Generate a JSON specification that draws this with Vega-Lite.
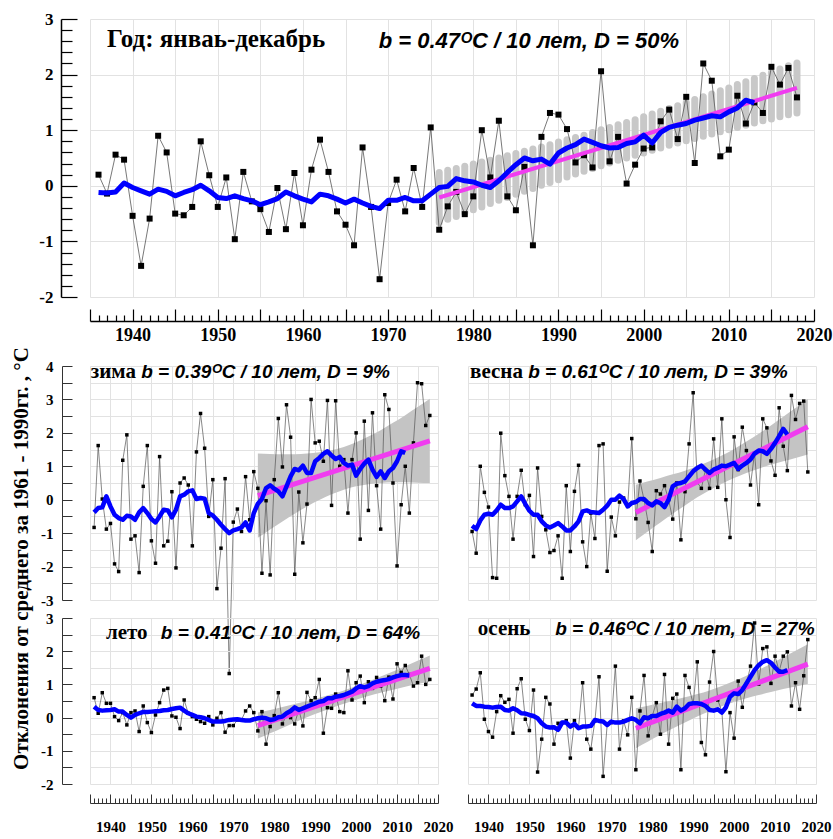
{
  "$schema": "https://vega.github.io/schema/vega-lite/v6.json",
  "background": "white",
  "padding": {"left": 10, "top": 10, "right": 2, "bottom": 2},
  "config": {"view": {"stroke": null}},
  "datasets": {
    "annual_obs": [
      {"year":1936,"value":0.2},{"year":1937,"value":-0.14},{"year":1938,"value":0.56},{"year":1939,"value":0.47},{"year":1940,"value":-0.54},{"year":1941,"value":-1.44},{"year":1942,"value":-0.59},{"year":1943,"value":0.9},{"year":1944,"value":0.6},{"year":1945,"value":-0.5},{"year":1946,"value":-0.53},{"year":1947,"value":-0.38},{"year":1948,"value":0.8},{"year":1949,"value":0.19},{"year":1950,"value":-0.38},{"year":1951,"value":0.15},{"year":1952,"value":-0.96},{"year":1953,"value":0.25},{"year":1954,"value":-0.28},{"year":1955,"value":-0.42},{"year":1956,"value":-0.83},{"year":1957,"value":-0.04},{"year":1958,"value":-0.78},{"year":1959,"value":0.23},{"year":1960,"value":-0.71},{"year":1961,"value":0.29},{"year":1962,"value":0.83},{"year":1963,"value":0.25},{"year":1964,"value":-0.46},{"year":1965,"value":-0.7},{"year":1966,"value":-1.07},{"year":1967,"value":0.69},{"year":1968,"value":-0.38},{"year":1969,"value":-1.68},{"year":1970,"value":-0.31},{"year":1971,"value":0.11},{"year":1972,"value":-0.46},{"year":1973,"value":0.32},{"year":1974,"value":-0.38},{"year":1975,"value":1.05},{"year":1976,"value":-0.79},{"year":1977,"value":-0.37},{"year":1978,"value":-0.11},{"year":1979,"value":-0.51},{"year":1980,"value":-0.19},{"year":1981,"value":1.0},{"year":1982,"value":0.15},{"year":1983,"value":1.17},{"year":1984,"value":-0.19},{"year":1985,"value":-0.44},{"year":1986,"value":0.34},{"year":1987,"value":-1.07},{"year":1988,"value":0.88},{"year":1989,"value":1.31},{"year":1990,"value":1.28},{"year":1991,"value":1.02},{"year":1992,"value":0.42},{"year":1993,"value":0.55},{"year":1994,"value":0.33},{"year":1995,"value":2.06},{"year":1996,"value":0.44},{"year":1997,"value":0.88},{"year":1998,"value":0.04},{"year":1999,"value":0.38},{"year":2000,"value":0.67},{"year":2001,"value":0.69},{"year":2002,"value":1.16},{"year":2003,"value":1.37},{"year":2004,"value":0.84},{"year":2005,"value":1.6},{"year":2006,"value":0.41},{"year":2007,"value":2.2},{"year":2008,"value":1.89},{"year":2009,"value":0.53},{"year":2010,"value":0.65},{"year":2011,"value":1.62},{"year":2012,"value":1.12},{"year":2013,"value":1.5},{"year":2014,"value":1.31},{"year":2015,"value":2.14},{"year":2016,"value":1.82},{"year":2017,"value":2.12},{"year":2018,"value":1.59}
    ],
    "annual_smooth": [
      {"year":1936,"value":-0.12},{"year":1937,"value":-0.13},{"year":1938,"value":-0.11},{"year":1939,"value":0.05},{"year":1940,"value":-0.03},{"year":1941,"value":-0.09},{"year":1942,"value":-0.15},{"year":1943,"value":-0.06},{"year":1944,"value":-0.1},{"year":1945,"value":-0.18},{"year":1946,"value":-0.12},{"year":1947,"value":-0.07},{"year":1948,"value":0.01},{"year":1949,"value":-0.09},{"year":1950,"value":-0.21},{"year":1951,"value":-0.23},{"year":1952,"value":-0.18},{"year":1953,"value":-0.23},{"year":1954,"value":-0.27},{"year":1955,"value":-0.34},{"year":1956,"value":-0.29},{"year":1957,"value":-0.23},{"year":1958,"value":-0.11},{"year":1959,"value":-0.18},{"year":1960,"value":-0.24},{"year":1961,"value":-0.29},{"year":1962,"value":-0.15},{"year":1963,"value":-0.18},{"year":1964,"value":-0.24},{"year":1965,"value":-0.31},{"year":1966,"value":-0.24},{"year":1967,"value":-0.31},{"year":1968,"value":-0.37},{"year":1969,"value":-0.41},{"year":1970,"value":-0.26},{"year":1971,"value":-0.26},{"year":1972,"value":-0.21},{"year":1973,"value":-0.27},{"year":1974,"value":-0.27},{"year":1975,"value":-0.15},{"year":1976,"value":-0.03},{"year":1977,"value":-0.01},{"year":1978,"value":0.13},{"year":1979,"value":0.09},{"year":1980,"value":0.07},{"year":1981,"value":0.01},{"year":1982,"value":-0.03},{"year":1983,"value":0.09},{"year":1984,"value":0.24},{"year":1985,"value":0.38},{"year":1986,"value":0.5},{"year":1987,"value":0.45},{"year":1988,"value":0.48},{"year":1989,"value":0.39},{"year":1990,"value":0.59},{"year":1991,"value":0.68},{"year":1992,"value":0.74},{"year":1993,"value":0.84},{"year":1994,"value":0.78},{"year":1995,"value":0.72},{"year":1996,"value":0.68},{"year":1997,"value":0.69},{"year":1998,"value":0.76},{"year":1999,"value":0.79},{"year":2000,"value":0.91},{"year":2001,"value":0.77},{"year":2002,"value":0.96},{"year":2003,"value":1.05},{"year":2004,"value":1.09},{"year":2005,"value":1.12},{"year":2006,"value":1.18},{"year":2007,"value":1.22},{"year":2008,"value":1.26},{"year":2009,"value":1.24},{"year":2010,"value":1.33},{"year":2011,"value":1.4},{"year":2012,"value":1.54},{"year":2013,"value":1.49}
    ],
    "annual_trend": [{"year":1976,"value":-0.21},{"year":2018,"value":1.76}],
    "annual_band": [
      {"year":1976,"lo":-0.66,"hi":0.24},{"year":1977,"lo":-0.6,"hi":0.28},{"year":1978,"lo":-0.55,"hi":0.31},{"year":1979,"lo":-0.49,"hi":0.35},{"year":1980,"lo":-0.43,"hi":0.39},{"year":1981,"lo":-0.38,"hi":0.43},{"year":1982,"lo":-0.32,"hi":0.46},{"year":1983,"lo":-0.26,"hi":0.5},{"year":1984,"lo":-0.21,"hi":0.54},{"year":1985,"lo":-0.15,"hi":0.58},{"year":1986,"lo":-0.1,"hi":0.62},{"year":1987,"lo":-0.05,"hi":0.66},{"year":1988,"lo":0.01,"hi":0.7},{"year":1989,"lo":0.06,"hi":0.74},{"year":1990,"lo":0.11,"hi":0.79},{"year":1991,"lo":0.16,"hi":0.83},{"year":1992,"lo":0.21,"hi":0.87},{"year":1993,"lo":0.26,"hi":0.91},{"year":1994,"lo":0.31,"hi":0.96},{"year":1995,"lo":0.36,"hi":1.01},{"year":1996,"lo":0.41,"hi":1.05},{"year":1997,"lo":0.46,"hi":1.1},{"year":1998,"lo":0.5,"hi":1.14},{"year":1999,"lo":0.55,"hi":1.19},{"year":2000,"lo":0.59,"hi":1.24},{"year":2001,"lo":0.64,"hi":1.29},{"year":2002,"lo":0.68,"hi":1.34},{"year":2003,"lo":0.73,"hi":1.39},{"year":2004,"lo":0.77,"hi":1.44},{"year":2005,"lo":0.81,"hi":1.5},{"year":2006,"lo":0.85,"hi":1.55},{"year":2007,"lo":0.89,"hi":1.6},{"year":2008,"lo":0.93,"hi":1.65},{"year":2009,"lo":0.97,"hi":1.71},{"year":2010,"lo":1.01,"hi":1.76},{"year":2011,"lo":1.05,"hi":1.82},{"year":2012,"lo":1.09,"hi":1.87},{"year":2013,"lo":1.13,"hi":1.93},{"year":2014,"lo":1.17,"hi":1.99},{"year":2015,"lo":1.2,"hi":2.04},{"year":2016,"lo":1.24,"hi":2.1},{"year":2017,"lo":1.28,"hi":2.16},{"year":2018,"lo":1.31,"hi":2.21}
    ],
    "winter_obs": [
      {"year":1936,"value":-0.83},{"year":1937,"value":1.62},{"year":1938,"value":0.02},{"year":1939,"value":-0.88},{"year":1940,"value":-0.71},{"year":1941,"value":-1.92},{"year":1942,"value":-2.15},{"year":1943,"value":1.18},{"year":1944,"value":1.94},{"year":1945,"value":-1.18},{"year":1946,"value":-1.08},{"year":1947,"value":-2.18},{"year":1948,"value":0.4},{"year":1949,"value":1.62},{"year":1950,"value":-1.23},{"year":1951,"value":-1.9},{"year":1952,"value":1.29},{"year":1953,"value":-1.38},{"year":1954,"value":-1.24},{"year":1955,"value":0.24},{"year":1956,"value":-2.04},{"year":1957,"value":0.5},{"year":1958,"value":0.65},{"year":1959,"value":0.44},{"year":1960,"value":-1.38},{"year":1961,"value":1.43},{"year":1962,"value":2.58},{"year":1963,"value":1.54},{"year":1964,"value":-0.5},{"year":1965,"value":0.6},{"year":1966,"value":-2.66},{"year":1967,"value":-1.45},{"year":1968,"value":0.63},{"year":1969,"value":-5.2},{"year":1970,"value":-0.67},{"year":1971,"value":-0.28},{"year":1972,"value":-0.95},{"year":1973,"value":0.69},{"year":1974,"value":-0.6},{"year":1975,"value":0.84},{"year":1976,"value":0.34},{"year":1977,"value":-2.2},{"year":1978,"value":-0.03},{"year":1979,"value":-2.25},{"year":1980,"value":0.6},{"year":1981,"value":2.43},{"year":1982,"value":0.98},{"year":1983,"value":2.84},{"year":1984,"value":1.87},{"year":1985,"value":-2.23},{"year":1986,"value":0.23},{"year":1987,"value":-1.29},{"year":1988,"value":-0.13},{"year":1989,"value":3.0},{"year":1990,"value":1.7},{"year":1991,"value":1.75},{"year":1992,"value":1.15},{"year":1993,"value":2.97},{"year":1994,"value":-0.17},{"year":1995,"value":2.96},{"year":1996,"value":1.0},{"year":1997,"value":1.2},{"year":1998,"value":-0.4},{"year":1999,"value":1.2},{"year":2000,"value":2.0},{"year":2001,"value":-1.18},{"year":2002,"value":2.35},{"year":2003,"value":-0.32},{"year":2004,"value":2.6},{"year":2005,"value":0.42},{"year":2006,"value":-0.88},{"year":2007,"value":3.14},{"year":2008,"value":2.7},{"year":2009,"value":0.5},{"year":2010,"value":-1.98},{"year":2011,"value":-0.15},{"year":2012,"value":1.0},{"year":2013,"value":-0.4},{"year":2014,"value":1.7},{"year":2015,"value":3.5},{"year":2016,"value":3.47},{"year":2017,"value":2.22},{"year":2018,"value":2.52}
    ],
    "winter_smooth": [
      {"year":1936,"value":-0.38},{"year":1937,"value":-0.25},{"year":1938,"value":-0.23},{"year":1939,"value":0.1},{"year":1940,"value":-0.2},{"year":1941,"value":-0.45},{"year":1942,"value":-0.55},{"year":1943,"value":-0.6},{"year":1944,"value":-0.48},{"year":1945,"value":-0.5},{"year":1946,"value":-0.6},{"year":1947,"value":-0.38},{"year":1948,"value":-0.25},{"year":1949,"value":-0.4},{"year":1950,"value":-0.58},{"year":1951,"value":-0.68},{"year":1952,"value":-0.5},{"year":1953,"value":-0.3},{"year":1954,"value":-0.32},{"year":1955,"value":-0.53},{"year":1956,"value":-0.3},{"year":1957,"value":0.1},{"year":1958,"value":0.15},{"year":1959,"value":0.25},{"year":1960,"value":0.28},{"year":1961,"value":0.02},{"year":1962,"value":0.05},{"year":1963,"value":0.03},{"year":1964,"value":-0.4},{"year":1965,"value":-0.47},{"year":1966,"value":-0.6},{"year":1967,"value":-0.75},{"year":1968,"value":-0.88},{"year":1969,"value":-1.0},{"year":1970,"value":-0.92},{"year":1971,"value":-0.88},{"year":1972,"value":-0.83},{"year":1973,"value":-0.68},{"year":1974,"value":-0.92},{"year":1975,"value":-0.4},{"year":1976,"value":-0.12},{"year":1977,"value":0.02},{"year":1978,"value":0.35},{"year":1979,"value":0.43},{"year":1980,"value":0.33},{"year":1981,"value":0.25},{"year":1982,"value":0.1},{"year":1983,"value":0.4},{"year":1984,"value":0.7},{"year":1985,"value":0.92},{"year":1986,"value":0.88},{"year":1987,"value":1.02},{"year":1988,"value":0.8},{"year":1989,"value":0.8},{"year":1990,"value":1.15},{"year":1991,"value":1.25},{"year":1992,"value":1.37},{"year":1993,"value":1.45},{"year":1994,"value":1.32},{"year":1995,"value":1.22},{"year":1996,"value":1.28},{"year":1997,"value":1.1},{"year":1998,"value":1.02},{"year":1999,"value":1.05},{"year":2000,"value":0.72},{"year":2001,"value":0.92},{"year":2002,"value":1.08},{"year":2003,"value":1.2},{"year":2004,"value":0.9},{"year":2005,"value":0.68},{"year":2006,"value":0.85},{"year":2007,"value":0.65},{"year":2008,"value":0.85},{"year":2009,"value":0.95},{"year":2010,"value":1.15},{"year":2011,"value":1.45},{"year":2012,"value":1.4}
    ],
    "winter_trend": [{"year":1976,"value":0.12},{"year":2018,"value":1.76}],
    "winter_band": [
      {"year":1976,"lo":-1.14,"hi":1.38},{"year":1979,"lo":-0.89,"hi":1.37},{"year":1982,"lo":-0.65,"hi":1.36},{"year":1985,"lo":-0.42,"hi":1.36},{"year":1988,"lo":-0.2,"hi":1.38},{"year":1991,"lo":-0.01,"hi":1.42},{"year":1994,"lo":0.16,"hi":1.48},{"year":1997,"lo":0.3,"hi":1.58},{"year":2000,"lo":0.4,"hi":1.72},{"year":2003,"lo":0.46,"hi":1.89},{"year":2006,"lo":0.5,"hi":2.08},{"year":2009,"lo":0.52,"hi":2.3},{"year":2012,"lo":0.52,"hi":2.53},{"year":2015,"lo":0.51,"hi":2.77},{"year":2018,"lo":0.5,"hi":3.02}
    ],
    "spring_obs": [
      {"year":1936,"value":-0.95},{"year":1937,"value":-1.6},{"year":1938,"value":1.0},{"year":1939,"value":0.22},{"year":1940,"value":-0.22},{"year":1941,"value":-2.33},{"year":1942,"value":-2.35},{"year":1943,"value":1.99},{"year":1944,"value":0.72},{"year":1945,"value":0.1},{"year":1946,"value":-1.18},{"year":1947,"value":0.1},{"year":1948,"value":0.88},{"year":1949,"value":-0.15},{"year":1950,"value":0.13},{"year":1951,"value":-1.7},{"year":1952,"value":0.95},{"year":1953,"value":-0.5},{"year":1954,"value":-0.9},{"year":1955,"value":-1.58},{"year":1956,"value":-1.52},{"year":1957,"value":-1.08},{"year":1958,"value":-2.35},{"year":1959,"value":0.42},{"year":1960,"value":-1.55},{"year":1961,"value":0.25},{"year":1962,"value":1.03},{"year":1963,"value":-1.26},{"year":1964,"value":-2.0},{"year":1965,"value":-0.4},{"year":1966,"value":-1.16},{"year":1967,"value":1.62},{"year":1968,"value":1.67},{"year":1969,"value":-2.14},{"year":1970,"value":-0.52},{"year":1971,"value":-1.08},{"year":1972,"value":-0.07},{"year":1973,"value":0.05},{"year":1974,"value":-0.2},{"year":1975,"value":1.83},{"year":1976,"value":-0.57},{"year":1977,"value":0.56},{"year":1978,"value":0.0},{"year":1979,"value":-0.68},{"year":1980,"value":-1.55},{"year":1981,"value":0.27},{"year":1982,"value":0.17},{"year":1983,"value":0.42},{"year":1984,"value":0.0},{"year":1985,"value":-0.58},{"year":1986,"value":0.5},{"year":1987,"value":-1.2},{"year":1988,"value":0.24},{"year":1989,"value":1.67},{"year":1990,"value":3.2},{"year":1991,"value":0.52},{"year":1992,"value":0.34},{"year":1993,"value":0.9},{"year":1994,"value":0.34},{"year":1995,"value":1.82},{"year":1996,"value":0.37},{"year":1997,"value":2.42},{"year":1998,"value":0.0},{"year":1999,"value":-1.13},{"year":2000,"value":1.88},{"year":2001,"value":0.9},{"year":2002,"value":2.17},{"year":2003,"value":1.47},{"year":2004,"value":0.44},{"year":2005,"value":1.4},{"year":2006,"value":-0.15},{"year":2007,"value":2.42},{"year":2008,"value":2.15},{"year":2009,"value":1.16},{"year":2010,"value":0.73},{"year":2011,"value":2.75},{"year":2012,"value":1.6},{"year":2013,"value":0.87},{"year":2014,"value":3.12},{"year":2015,"value":2.4},{"year":2016,"value":2.88},{"year":2017,"value":2.95},{"year":2018,"value":0.83}
    ],
    "spring_smooth": [
      {"year":1936,"value":-0.78},{"year":1937,"value":-0.88},{"year":1938,"value":-0.62},{"year":1939,"value":-0.45},{"year":1940,"value":-0.42},{"year":1941,"value":-0.45},{"year":1942,"value":-0.32},{"year":1943,"value":-0.15},{"year":1944,"value":-0.25},{"year":1945,"value":-0.25},{"year":1946,"value":-0.2},{"year":1947,"value":-0.05},{"year":1948,"value":0.1},{"year":1949,"value":-0.13},{"year":1950,"value":-0.33},{"year":1951,"value":-0.45},{"year":1952,"value":-0.45},{"year":1953,"value":-0.65},{"year":1954,"value":-0.77},{"year":1955,"value":-0.83},{"year":1956,"value":-0.77},{"year":1957,"value":-0.7},{"year":1958,"value":-0.8},{"year":1959,"value":-0.92},{"year":1960,"value":-0.92},{"year":1961,"value":-0.8},{"year":1962,"value":-0.65},{"year":1963,"value":-0.35},{"year":1964,"value":-0.32},{"year":1965,"value":-0.37},{"year":1966,"value":-0.38},{"year":1967,"value":-0.4},{"year":1968,"value":-0.3},{"year":1969,"value":-0.18},{"year":1970,"value":0.0},{"year":1971,"value":0.0},{"year":1972,"value":0.12},{"year":1973,"value":0.02},{"year":1974,"value":-0.2},{"year":1975,"value":-0.1},{"year":1976,"value":-0.07},{"year":1977,"value":0.02},{"year":1978,"value":0.02},{"year":1979,"value":-0.1},{"year":1980,"value":-0.17},{"year":1981,"value":-0.05},{"year":1982,"value":-0.1},{"year":1983,"value":-0.22},{"year":1984,"value":0.0},{"year":1985,"value":0.4},{"year":1986,"value":0.48},{"year":1987,"value":0.5},{"year":1988,"value":0.55},{"year":1989,"value":0.7},{"year":1990,"value":0.85},{"year":1991,"value":0.95},{"year":1992,"value":1.02},{"year":1993,"value":0.9},{"year":1994,"value":0.8},{"year":1995,"value":0.9},{"year":1996,"value":0.95},{"year":1997,"value":1.02},{"year":1998,"value":1.0},{"year":1999,"value":1.05},{"year":2000,"value":1.1},{"year":2001,"value":0.92},{"year":2002,"value":1.02},{"year":2003,"value":1.1},{"year":2004,"value":1.2},{"year":2005,"value":1.38},{"year":2006,"value":1.47},{"year":2007,"value":1.45},{"year":2008,"value":1.37},{"year":2009,"value":1.52},{"year":2010,"value":1.7},{"year":2011,"value":1.9},{"year":2012,"value":2.12},{"year":2013,"value":1.95}
    ],
    "spring_trend": [{"year":1976,"value":-0.38},{"year":2018,"value":2.18}],
    "spring_band": [
      {"year":1976,"lo":-1.21,"hi":0.45},{"year":1979,"lo":-0.94,"hi":0.55},{"year":1982,"lo":-0.68,"hi":0.65},{"year":1985,"lo":-0.42,"hi":0.76},{"year":1988,"lo":-0.17,"hi":0.87},{"year":1991,"lo":0.07,"hi":1.01},{"year":1994,"lo":0.28,"hi":1.15},{"year":1997,"lo":0.48,"hi":1.32},{"year":2000,"lo":0.65,"hi":1.52},{"year":2003,"lo":0.8,"hi":1.74},{"year":2006,"lo":0.93,"hi":1.97},{"year":2009,"lo":1.05,"hi":2.22},{"year":2012,"lo":1.15,"hi":2.48},{"year":2015,"lo":1.25,"hi":2.74},{"year":2018,"lo":1.35,"hi":3.01}
    ],
    "summer_obs": [
      {"year":1936,"value":0.6},{"year":1937,"value":0.13},{"year":1938,"value":0.75},{"year":1939,"value":0.43},{"year":1940,"value":0.43},{"year":1941,"value":0.03},{"year":1942,"value":-0.09},{"year":1943,"value":0.15},{"year":1944,"value":-0.22},{"year":1945,"value":0.15},{"year":1946,"value":0.2},{"year":1947,"value":-0.42},{"year":1948,"value":0.35},{"year":1949,"value":-0.15},{"year":1950,"value":-0.45},{"year":1951,"value":0.08},{"year":1952,"value":0.45},{"year":1953,"value":0.83},{"year":1954,"value":0.88},{"year":1955,"value":0.05},{"year":1956,"value":0.01},{"year":1957,"value":-0.33},{"year":1958,"value":0.53},{"year":1959,"value":0.13},{"year":1960,"value":0.03},{"year":1961,"value":-0.05},{"year":1962,"value":-0.12},{"year":1963,"value":-0.17},{"year":1964,"value":0.03},{"year":1965,"value":-0.22},{"year":1966,"value":-0.02},{"year":1967,"value":0.15},{"year":1968,"value":-0.44},{"year":1969,"value":-0.24},{"year":1970,"value":-0.24},{"year":1971,"value":-0.07},{"year":1972,"value":-0.07},{"year":1973,"value":0.2},{"year":1974,"value":0.35},{"year":1975,"value":0.15},{"year":1976,"value":-0.4},{"year":1977,"value":0.18},{"year":1978,"value":-0.8},{"year":1979,"value":-0.27},{"year":1980,"value":0.06},{"year":1981,"value":0.75},{"year":1982,"value":-0.19},{"year":1983,"value":0.08},{"year":1984,"value":0.0},{"year":1985,"value":-0.19},{"year":1986,"value":0.25},{"year":1987,"value":-0.25},{"year":1988,"value":0.76},{"year":1989,"value":0.51},{"year":1990,"value":0.6},{"year":1991,"value":1.15},{"year":1992,"value":-0.47},{"year":1993,"value":0.3},{"year":1994,"value":0.28},{"year":1995,"value":0.71},{"year":1996,"value":0.18},{"year":1997,"value":0.15},{"year":1998,"value":1.41},{"year":1999,"value":0.53},{"year":2000,"value":1.05},{"year":2001,"value":1.25},{"year":2002,"value":0.45},{"year":2003,"value":1.08},{"year":2004,"value":0.88},{"year":2005,"value":1.21},{"year":2006,"value":0.95},{"year":2007,"value":0.51},{"year":2008,"value":1.22},{"year":2009,"value":0.56},{"year":2010,"value":1.62},{"year":2011,"value":1.36},{"year":2012,"value":1.57},{"year":2013,"value":1.3},{"year":2014,"value":0.95},{"year":2015,"value":1.05},{"year":2016,"value":1.85},{"year":2017,"value":1.0},{"year":2018,"value":1.15}
    ],
    "summer_smooth": [
      {"year":1936,"value":0.33},{"year":1937,"value":0.23},{"year":1938,"value":0.21},{"year":1939,"value":0.22},{"year":1940,"value":0.23},{"year":1941,"value":0.25},{"year":1942,"value":0.18},{"year":1943,"value":0.18},{"year":1944,"value":0.08},{"year":1945,"value":0.0},{"year":1946,"value":0.08},{"year":1947,"value":0.13},{"year":1948,"value":0.17},{"year":1949,"value":0.17},{"year":1950,"value":0.18},{"year":1951,"value":0.19},{"year":1952,"value":0.2},{"year":1953,"value":0.22},{"year":1954,"value":0.23},{"year":1955,"value":0.26},{"year":1956,"value":0.28},{"year":1957,"value":0.3},{"year":1958,"value":0.21},{"year":1959,"value":0.13},{"year":1960,"value":0.08},{"year":1961,"value":0.03},{"year":1962,"value":0.01},{"year":1963,"value":-0.02},{"year":1964,"value":-0.07},{"year":1965,"value":-0.12},{"year":1966,"value":-0.12},{"year":1967,"value":-0.12},{"year":1968,"value":-0.1},{"year":1969,"value":-0.07},{"year":1970,"value":-0.06},{"year":1971,"value":-0.05},{"year":1972,"value":-0.07},{"year":1973,"value":-0.09},{"year":1974,"value":-0.09},{"year":1975,"value":-0.05},{"year":1976,"value":-0.02},{"year":1977,"value":0.0},{"year":1978,"value":-0.02},{"year":1979,"value":-0.07},{"year":1980,"value":-0.05},{"year":1981,"value":0.01},{"year":1982,"value":0.03},{"year":1983,"value":0.13},{"year":1984,"value":0.2},{"year":1985,"value":0.31},{"year":1986,"value":0.23},{"year":1987,"value":0.28},{"year":1988,"value":0.33},{"year":1989,"value":0.38},{"year":1990,"value":0.43},{"year":1991,"value":0.48},{"year":1992,"value":0.5},{"year":1993,"value":0.58},{"year":1994,"value":0.58},{"year":1995,"value":0.63},{"year":1996,"value":0.65},{"year":1997,"value":0.68},{"year":1998,"value":0.73},{"year":1999,"value":0.78},{"year":2000,"value":0.88},{"year":2001,"value":0.95},{"year":2002,"value":0.91},{"year":2003,"value":0.95},{"year":2004,"value":1.03},{"year":2005,"value":1.08},{"year":2006,"value":1.11},{"year":2007,"value":1.13},{"year":2008,"value":1.16},{"year":2009,"value":1.21},{"year":2010,"value":1.25},{"year":2011,"value":1.28},{"year":2012,"value":1.28},{"year":2013,"value":1.27}
    ],
    "summer_trend": [{"year":1976,"value":-0.24},{"year":2018,"value":1.48}],
    "summer_band": [
      {"year":1976,"lo":-0.63,"hi":0.15},{"year":1979,"lo":-0.47,"hi":0.23},{"year":1982,"lo":-0.31,"hi":0.32},{"year":1985,"lo":-0.15,"hi":0.41},{"year":1988,"lo":0.01,"hi":0.5},{"year":1991,"lo":0.15,"hi":0.6},{"year":1994,"lo":0.29,"hi":0.7},{"year":1997,"lo":0.42,"hi":0.82},{"year":2000,"lo":0.54,"hi":0.95},{"year":2003,"lo":0.65,"hi":1.09},{"year":2006,"lo":0.75,"hi":1.24},{"year":2009,"lo":0.84,"hi":1.39},{"year":2012,"lo":0.93,"hi":1.55},{"year":2015,"lo":1.01,"hi":1.71},{"year":2018,"lo":1.09,"hi":1.87}
    ],
    "autumn_obs": [
      {"year":1936,"value":0.68},{"year":1937,"value":0.86},{"year":1938,"value":1.35},{"year":1939,"value":-0.05},{"year":1940,"value":-0.42},{"year":1941,"value":-0.59},{"year":1942,"value":0.18},{"year":1943,"value":0.66},{"year":1944,"value":0.46},{"year":1945,"value":0.55},{"year":1946,"value":-0.47},{"year":1947,"value":0.87},{"year":1948,"value":1.17},{"year":1949,"value":-0.05},{"year":1950,"value":-0.39},{"year":1951,"value":0.83},{"year":1952,"value":-1.64},{"year":1953,"value":-0.65},{"year":1954,"value":0.61},{"year":1955,"value":0.41},{"year":1956,"value":-0.8},{"year":1957,"value":-0.17},{"year":1958,"value":-0.15},{"year":1959,"value":-0.09},{"year":1960,"value":-1.22},{"year":1961,"value":-0.09},{"year":1962,"value":-0.3},{"year":1963,"value":1.05},{"year":1964,"value":-0.65},{"year":1965,"value":-0.95},{"year":1966,"value":-0.1},{"year":1967,"value":1.23},{"year":1968,"value":-1.77},{"year":1969,"value":-0.2},{"year":1970,"value":-0.15},{"year":1971,"value":1.55},{"year":1972,"value":-0.95},{"year":1973,"value":-0.1},{"year":1974,"value":-0.52},{"year":1975,"value":0.61},{"year":1976,"value":-1.57},{"year":1977,"value":0.2},{"year":1978,"value":1.27},{"year":1979,"value":-0.55},{"year":1980,"value":0.05},{"year":1981,"value":0.45},{"year":1982,"value":-0.5},{"year":1983,"value":1.3},{"year":1984,"value":-0.8},{"year":1985,"value":0.58},{"year":1986,"value":0.71},{"year":1987,"value":-1.57},{"year":1988,"value":1.27},{"year":1989,"value":0.91},{"year":1990,"value":0.41},{"year":1991,"value":1.68},{"year":1992,"value":-0.75},{"year":1993,"value":-1.12},{"year":1994,"value":1.07},{"year":1995,"value":1.99},{"year":1996,"value":0.53},{"year":1997,"value":0.2},{"year":1998,"value":-1.63},{"year":1999,"value":0.15},{"year":2000,"value":-0.62},{"year":2001,"value":1.1},{"year":2002,"value":0.31},{"year":2003,"value":1.0},{"year":2004,"value":1.55},{"year":2005,"value":2.85},{"year":2006,"value":1.01},{"year":2007,"value":2.08},{"year":2008,"value":2.13},{"year":2009,"value":1.03},{"year":2010,"value":1.85},{"year":2011,"value":1.4},{"year":2012,"value":1.85},{"year":2013,"value":1.98},{"year":2014,"value":0.35},{"year":2015,"value":1.05},{"year":2016,"value":0.25},{"year":2017,"value":1.26},{"year":2018,"value":2.35}
    ],
    "autumn_smooth": [
      {"year":1936,"value":0.43},{"year":1937,"value":0.35},{"year":1938,"value":0.35},{"year":1939,"value":0.33},{"year":1940,"value":0.32},{"year":1941,"value":0.3},{"year":1942,"value":0.32},{"year":1943,"value":0.33},{"year":1944,"value":0.23},{"year":1945,"value":0.21},{"year":1946,"value":0.28},{"year":1947,"value":0.22},{"year":1948,"value":0.13},{"year":1949,"value":0.12},{"year":1950,"value":0.08},{"year":1951,"value":0.05},{"year":1952,"value":-0.02},{"year":1953,"value":-0.17},{"year":1954,"value":-0.27},{"year":1955,"value":-0.3},{"year":1956,"value":-0.29},{"year":1957,"value":-0.37},{"year":1958,"value":-0.15},{"year":1959,"value":-0.15},{"year":1960,"value":-0.27},{"year":1961,"value":-0.19},{"year":1962,"value":-0.32},{"year":1963,"value":-0.27},{"year":1964,"value":-0.27},{"year":1965,"value":-0.25},{"year":1966,"value":-0.07},{"year":1967,"value":-0.1},{"year":1968,"value":-0.12},{"year":1969,"value":-0.22},{"year":1970,"value":-0.12},{"year":1971,"value":-0.15},{"year":1972,"value":-0.15},{"year":1973,"value":-0.12},{"year":1974,"value":-0.07},{"year":1975,"value":-0.02},{"year":1976,"value":-0.07},{"year":1977,"value":-0.17},{"year":1978,"value":0.01},{"year":1979,"value":-0.02},{"year":1980,"value":0.05},{"year":1981,"value":0.05},{"year":1982,"value":0.11},{"year":1983,"value":0.15},{"year":1984,"value":0.21},{"year":1985,"value":0.15},{"year":1986,"value":0.33},{"year":1987,"value":0.21},{"year":1988,"value":0.28},{"year":1989,"value":0.41},{"year":1990,"value":0.43},{"year":1991,"value":0.43},{"year":1992,"value":0.41},{"year":1993,"value":0.35},{"year":1994,"value":0.23},{"year":1995,"value":0.21},{"year":1996,"value":0.25},{"year":1997,"value":0.15},{"year":1998,"value":0.31},{"year":1999,"value":0.63},{"year":2000,"value":0.73},{"year":2001,"value":0.71},{"year":2002,"value":0.83},{"year":2003,"value":1.03},{"year":2004,"value":1.23},{"year":2005,"value":1.43},{"year":2006,"value":1.58},{"year":2007,"value":1.68},{"year":2008,"value":1.73},{"year":2009,"value":1.65},{"year":2010,"value":1.51},{"year":2011,"value":1.38},{"year":2012,"value":1.38},{"year":2013,"value":1.43}
    ],
    "autumn_trend": [{"year":1976,"value":-0.32},{"year":2018,"value":1.61}],
    "autumn_band": [
      {"year":1976,"lo":-0.92,"hi":0.28},{"year":1979,"lo":-0.72,"hi":0.36},{"year":1982,"lo":-0.52,"hi":0.44},{"year":1985,"lo":-0.33,"hi":0.52},{"year":1988,"lo":-0.15,"hi":0.61},{"year":1991,"lo":0.03,"hi":0.71},{"year":1994,"lo":0.19,"hi":0.82},{"year":1997,"lo":0.34,"hi":0.95},{"year":2000,"lo":0.47,"hi":1.1},{"year":2003,"lo":0.58,"hi":1.26},{"year":2006,"lo":0.68,"hi":1.44},{"year":2009,"lo":0.77,"hi":1.62},{"year":2012,"lo":0.86,"hi":1.82},{"year":2015,"lo":0.94,"hi":2.01},{"year":2018,"lo":1.01,"hi":2.21}
    ]
  },
  "vconcat": [
    {
      "width": 724,
      "height": 278,
      "resolve": {"axis": {"x": "independent", "y": "independent"}},
      "layer": [
        {
          "encoding": {
            "x": {"field": "year", "type": "quantitative", "scale": {"domain": [1935, 2020], "nice": false, "zero": false},
              "axis": {"title": null, "values": [1935,1936,1937,1938,1939,1940,1941,1942,1943,1944,1945,1946,1947,1948,1949,1950,1951,1952,1953,1954,1955,1956,1957,1958,1959,1960,1961,1962,1963,1964,1965,1966,1967,1968,1969,1970,1971,1972,1973,1974,1975,1976,1977,1978,1979,1980,1981,1982,1983,1984,1985,1986,1987,1988,1989,1990,1991,1992,1993,1994,1995,1996,1997,1998,1999,2000,2001,2002,2003,2004,2005,2006,2007,2008,2009,2010,2011,2012,2013,2014,2015,2016,2017,2018,2019,2020],
                "format": "d", "labelExpr": "datum.value % 10 === 0 ? datum.label : ''", "labelOverlap": false, "labelFlush": false,
                "labelFont": "Liberation Serif", "labelFontWeight": "bold", "labelFontSize": 18, "labelColor": "black", "labelPadding": 17,
                "offset": 24, "tickSize": {"condition": {"test": "datum.value % 5 === 0", "value": -12}, "value": -6},
                "tickColor": "black", "tickWidth": 1.2, "domainColor": "black", "domainWidth": 1.5,
                "grid": true, "gridColor": "#e2e2e2", "gridWidth": 1, "gridOpacity": {"condition": {"test": "datum.value % 5 === 0", "value": 1}, "value": 0}}},
            "y": {"field": "value", "type": "quantitative", "scale": {"domain": [-2, 3], "nice": false, "zero": false},
              "axis": {"title": null, "values": [-2,-1.8,-1.6,-1.4,-1.2,-1,-0.8,-0.6,-0.4,-0.2,0,0.2,0.4,0.6,0.8,1,1.2,1.4,1.6,1.8,2,2.2,2.4,2.6,2.8,3],
                "labelExpr": "datum.value % 1 === 0 ? '' + datum.value : ''", "labelOverlap": false, "labelFlush": false,
                "labelFont": "Liberation Serif", "labelFontWeight": "bold", "labelFontSize": 17, "labelColor": "black", "labelPadding": 24,
                "offset": 29, "tickSize": {"condition": {"test": "datum.value % 1 === 0", "value": -16}, "value": -11},
                "tickColor": "black", "tickWidth": 1.2, "domainColor": "black", "domainWidth": 1.5,
                "grid": true, "gridColor": "#e2e2e2", "gridWidth": 1, "gridOpacity": {"condition": {"test": "datum.value % 1 === 0", "value": 1}, "value": 0}}}
          },
          "layer": [
            {"data": {"name": "annual_band"}, "mark": {"type": "rule", "color": "#c8c8c8", "strokeWidth": 7, "strokeCap": "round"},
              "encoding": {"y": {"field": "lo", "type": "quantitative", "title": null}, "y2": {"field": "hi"}}},
            {"data": {"name": "annual_obs"}, "mark": {"type": "line", "color": "#555555", "strokeWidth": 0.8}},
            {"data": {"name": "annual_obs"}, "mark": {"type": "square", "color": "black", "size": 36, "opacity": 1}},
            {"data": {"name": "annual_trend"}, "mark": {"type": "line", "color": "#f03cf0", "strokeWidth": 4}},
            {"data": {"name": "annual_smooth"}, "mark": {"type": "line", "color": "#0000ff", "strokeWidth": 5, "strokeJoin": "round"}}
          ]
        },
        {"data": {"values": [{}]}, "mark": {"type": "text", "text": "Год: янваь-декабрь", "font": "Liberation Serif", "fontWeight": "bold", "fontSize": 25, "align": "left", "baseline": "middle", "color": "black"},
          "encoding": {"x": {"datum": 1937.0, "type": "quantitative", "axis": null}, "y": {"datum": 2.64, "type": "quantitative", "axis": null}}},
        {"data": {"values": [{}]}, "mark": {"type": "text", "text": "b = 0.47ᴼC / 10 лет, D = 50%", "font": "Liberation Sans", "fontWeight": "bold", "fontStyle": "italic", "fontSize": 22, "align": "left", "baseline": "middle", "color": "black"},
          "encoding": {"x": {"datum": 1968.9, "type": "quantitative", "axis": null}, "y": {"datum": 2.6, "type": "quantitative", "axis": null}}}
      ]
    },
    {
      "bounds": "flush",
      "spacing": 252,
      "vconcat": [
        {
          "bounds": "flush",
          "spacing": 30,
          "hconcat": [
            {
              "width": 348, "height": 234,
              "resolve": {"axis": {"x": "independent", "y": "independent"}},
              "layer": [
                {
                  "encoding": {
                    "x": {"field": "year", "type": "quantitative", "scale": {"domain": [1935, 2020], "nice": false, "zero": false},
                      "axis": {"title": null, "values": [1935,1940,1945,1950,1955,1960,1965,1970,1975,1980,1985,1990,1995,2000,2005,2010,2015,2020], "domain": false, "ticks": false, "labels": false, "grid": true, "gridColor": "#e2e2e2"}},
                    "y": {"field": "value", "type": "quantitative", "scale": {"domain": [-3, 4], "nice": false, "zero": false},
                      "axis": {"title": "Отклонения от среднего за 1961 - 1990гг. , °C", "titleFont": "Liberation Serif", "titleFontWeight": "bold", "titleFontSize": 21, "titleColor": "black", "titleY": 192, "titleAlign": "center", "titlePadding": 9,
                        "values": [-3,-2.5,-2,-1.5,-1,-0.5,0,0.5,1,1.5,2,2.5,3,3.5,4],
                        "labelExpr": "datum.value % 1 === 0 ? '' + datum.value : ''", "labelOverlap": false, "labelFlush": false,
                        "labelFont": "Liberation Serif", "labelFontWeight": "bold", "labelFontSize": 15, "labelColor": "black", "labelPadding": 19,
                        "offset": 28, "tickSize": -10, "tickColor": "#333333", "domainColor": "#333333", "grid": true, "gridColor": "#e2e2e2"}}
                  },
                  "layer": [
                    {"data": {"name": "winter_band"}, "mark": {"type": "area", "color": "#c4c4c4", "opacity": 1, "interpolate": "monotone"},
                      "encoding": {"y": {"field": "lo", "type": "quantitative", "title": null}, "y2": {"field": "hi"}}},
                    {"data": {"name": "winter_obs"}, "mark": {"type": "line", "color": "#555555", "strokeWidth": 0.7}},
                    {"data": {"name": "winter_obs"}, "mark": {"type": "square", "color": "black", "size": 12, "opacity": 1}},
                    {"data": {"name": "winter_trend"}, "mark": {"type": "line", "color": "#f03cf0", "strokeWidth": 5}},
                    {"data": {"name": "winter_smooth"}, "mark": {"type": "line", "color": "#0000ff", "strokeWidth": 4.5, "strokeJoin": "round"}}
                  ]
                },
                {"data": {"values": [{}]}, "mark": {"type": "text", "text": "зима", "font": "Liberation Serif", "fontWeight": "bold", "fontSize": 21, "align": "left", "baseline": "middle", "color": "black"},
                  "encoding": {"x": {"datum": 1935.2, "type": "quantitative", "axis": null}, "y": {"datum": 3.81, "type": "quantitative", "axis": null}}},
                {"data": {"values": [{}]}, "mark": {"type": "text", "text": "b = 0.39ᴼC / 10 лет, D = 9%", "font": "Liberation Sans", "fontWeight": "bold", "fontStyle": "italic", "fontSize": 19, "align": "left", "baseline": "middle", "color": "black"},
                  "encoding": {"x": {"datum": 1947.5, "type": "quantitative", "axis": null}, "y": {"datum": 3.81, "type": "quantitative", "axis": null}}}
              ]
            },
            {
              "width": 348, "height": 234,
              "resolve": {"axis": {"x": "independent", "y": "independent"}},
              "layer": [
                {
                  "encoding": {
                    "x": {"field": "year", "type": "quantitative", "scale": {"domain": [1935, 2020], "nice": false, "zero": false},
                      "axis": {"title": null, "values": [1935,1940,1945,1950,1955,1960,1965,1970,1975,1980,1985,1990,1995,2000,2005,2010,2015,2020], "domain": false, "ticks": false, "labels": false, "grid": true, "gridColor": "#e2e2e2"}},
                    "y": {"field": "value", "type": "quantitative", "scale": {"domain": [-3, 4], "nice": false, "zero": false},
                      "axis": {"title": null, "values": [-3,-2.5,-2,-1.5,-1,-0.5,0,0.5,1,1.5,2,2.5,3,3.5,4], "domain": false, "ticks": false, "labels": false, "grid": true, "gridColor": "#e2e2e2"}}
                  },
                  "layer": [
                    {"data": {"name": "spring_band"}, "mark": {"type": "area", "color": "#c4c4c4", "opacity": 1, "interpolate": "monotone"},
                      "encoding": {"y": {"field": "lo", "type": "quantitative", "title": null}, "y2": {"field": "hi"}}},
                    {"data": {"name": "spring_obs"}, "mark": {"type": "line", "color": "#555555", "strokeWidth": 0.7}},
                    {"data": {"name": "spring_obs"}, "mark": {"type": "square", "color": "black", "size": 12, "opacity": 1}},
                    {"data": {"name": "spring_trend"}, "mark": {"type": "line", "color": "#f03cf0", "strokeWidth": 5}},
                    {"data": {"name": "spring_smooth"}, "mark": {"type": "line", "color": "#0000ff", "strokeWidth": 4.5, "strokeJoin": "round"}}
                  ]
                },
                {"data": {"values": [{}]}, "mark": {"type": "text", "text": "весна", "font": "Liberation Serif", "fontWeight": "bold", "fontSize": 21, "align": "left", "baseline": "middle", "color": "black"},
                  "encoding": {"x": {"datum": 1935.5, "type": "quantitative", "axis": null}, "y": {"datum": 3.81, "type": "quantitative", "axis": null}}},
                {"data": {"values": [{}]}, "mark": {"type": "text", "text": "b = 0.61ᴼC / 10 лет, D = 39%", "font": "Liberation Sans", "fontWeight": "bold", "fontStyle": "italic", "fontSize": 19, "align": "left", "baseline": "middle", "color": "black"},
                  "encoding": {"x": {"datum": 1949.7, "type": "quantitative", "axis": null}, "y": {"datum": 3.81, "type": "quantitative", "axis": null}}}
              ]
            }
          ]
        },
        {
          "bounds": "flush",
          "spacing": 30,
          "hconcat": [
            {
              "width": 348, "height": 166,
              "resolve": {"axis": {"x": "independent", "y": "independent"}},
              "layer": [
                {
                  "encoding": {
                    "x": {"field": "year", "type": "quantitative", "scale": {"domain": [1935, 2020], "nice": false, "zero": false},
                      "axis": {"title": null, "values": [1935,1936,1937,1938,1939,1940,1941,1942,1943,1944,1945,1946,1947,1948,1949,1950,1951,1952,1953,1954,1955,1956,1957,1958,1959,1960,1961,1962,1963,1964,1965,1966,1967,1968,1969,1970,1971,1972,1973,1974,1975,1976,1977,1978,1979,1980,1981,1982,1983,1984,1985,1986,1987,1988,1989,1990,1991,1992,1993,1994,1995,1996,1997,1998,1999,2000,2001,2002,2003,2004,2005,2006,2007,2008,2009,2010,2011,2012,2013,2014,2015,2016,2017,2018,2019,2020],
                        "format": "d", "labelExpr": "datum.value % 10 === 0 ? datum.label : ''", "labelOverlap": false, "labelFlush": false,
                        "labelFont": "Liberation Serif", "labelFontWeight": "bold", "labelFontSize": 15, "labelColor": "black", "labelPadding": 25,
                        "offset": 19, "tickSize": {"condition": {"test": "datum.value % 5 === 0", "value": -9}, "value": -5},
                        "tickColor": "#333333", "tickWidth": 1, "domainColor": "#333333", "domainWidth": 1,
                        "grid": true, "gridColor": "#e2e2e2", "gridOpacity": {"condition": {"test": "datum.value % 5 === 0", "value": 1}, "value": 0}}},
                    "y": {"field": "value", "type": "quantitative", "scale": {"domain": [-2, 3], "nice": false, "zero": false},
                      "axis": {"title": null, "values": [-2,-1.5,-1,-0.5,0,0.5,1,1.5,2,2.5,3],
                        "labelExpr": "datum.value % 1 === 0 ? '' + datum.value : ''", "labelOverlap": false, "labelFlush": false,
                        "labelFont": "Liberation Serif", "labelFontWeight": "bold", "labelFontSize": 15, "labelColor": "black", "labelPadding": 19,
                        "offset": 28, "tickSize": -10, "tickColor": "#333333", "domainColor": "#333333", "grid": true, "gridColor": "#e2e2e2"}}
                  },
                  "layer": [
                    {"data": {"name": "summer_band"}, "mark": {"type": "area", "color": "#c4c4c4", "opacity": 1, "interpolate": "monotone"},
                      "encoding": {"y": {"field": "lo", "type": "quantitative", "title": null}, "y2": {"field": "hi"}}},
                    {"data": {"name": "summer_obs"}, "mark": {"type": "line", "color": "#555555", "strokeWidth": 0.7}},
                    {"data": {"name": "summer_obs"}, "mark": {"type": "square", "color": "black", "size": 12, "opacity": 1}},
                    {"data": {"name": "summer_trend"}, "mark": {"type": "line", "color": "#f03cf0", "strokeWidth": 5}},
                    {"data": {"name": "summer_smooth"}, "mark": {"type": "line", "color": "#0000ff", "strokeWidth": 4.5, "strokeJoin": "round"}}
                  ]
                },
                {"data": {"values": [{}]}, "mark": {"type": "text", "text": "лето", "font": "Liberation Serif", "fontWeight": "bold", "fontSize": 21, "align": "left", "baseline": "middle", "color": "black"},
                  "encoding": {"x": {"datum": 1938.9, "type": "quantitative", "axis": null}, "y": {"datum": 2.55, "type": "quantitative", "axis": null}}},
                {"data": {"values": [{}]}, "mark": {"type": "text", "text": "b = 0.41ᴼC / 10 лет, D = 64%", "font": "Liberation Sans", "fontWeight": "bold", "fontStyle": "italic", "fontSize": 19, "align": "left", "baseline": "middle", "color": "black"},
                  "encoding": {"x": {"datum": 1952.3, "type": "quantitative", "axis": null}, "y": {"datum": 2.55, "type": "quantitative", "axis": null}}}
              ]
            },
            {
              "width": 348, "height": 166,
              "resolve": {"axis": {"x": "independent", "y": "independent"}},
              "layer": [
                {
                  "encoding": {
                    "x": {"field": "year", "type": "quantitative", "scale": {"domain": [1935, 2020], "nice": false, "zero": false},
                      "axis": {"title": null, "values": [1935,1936,1937,1938,1939,1940,1941,1942,1943,1944,1945,1946,1947,1948,1949,1950,1951,1952,1953,1954,1955,1956,1957,1958,1959,1960,1961,1962,1963,1964,1965,1966,1967,1968,1969,1970,1971,1972,1973,1974,1975,1976,1977,1978,1979,1980,1981,1982,1983,1984,1985,1986,1987,1988,1989,1990,1991,1992,1993,1994,1995,1996,1997,1998,1999,2000,2001,2002,2003,2004,2005,2006,2007,2008,2009,2010,2011,2012,2013,2014,2015,2016,2017,2018,2019,2020],
                        "format": "d", "labelExpr": "datum.value % 10 === 0 ? datum.label : ''", "labelOverlap": false, "labelFlush": false,
                        "labelFont": "Liberation Serif", "labelFontWeight": "bold", "labelFontSize": 15, "labelColor": "black", "labelPadding": 25,
                        "offset": 19, "tickSize": {"condition": {"test": "datum.value % 5 === 0", "value": -9}, "value": -5},
                        "tickColor": "#333333", "tickWidth": 1, "domainColor": "#333333", "domainWidth": 1,
                        "grid": true, "gridColor": "#e2e2e2", "gridOpacity": {"condition": {"test": "datum.value % 5 === 0", "value": 1}, "value": 0}}},
                    "y": {"field": "value", "type": "quantitative", "scale": {"domain": [-2, 3], "nice": false, "zero": false},
                      "axis": {"title": null, "values": [-2,-1.5,-1,-0.5,0,0.5,1,1.5,2,2.5,3], "domain": false, "ticks": false, "labels": false, "grid": true, "gridColor": "#e2e2e2"}}
                  },
                  "layer": [
                    {"data": {"name": "autumn_band"}, "mark": {"type": "area", "color": "#c4c4c4", "opacity": 1, "interpolate": "monotone"},
                      "encoding": {"y": {"field": "lo", "type": "quantitative", "title": null}, "y2": {"field": "hi"}}},
                    {"data": {"name": "autumn_obs"}, "mark": {"type": "line", "color": "#555555", "strokeWidth": 0.7}},
                    {"data": {"name": "autumn_obs"}, "mark": {"type": "square", "color": "black", "size": 12, "opacity": 1}},
                    {"data": {"name": "autumn_trend"}, "mark": {"type": "line", "color": "#f03cf0", "strokeWidth": 5}},
                    {"data": {"name": "autumn_smooth"}, "mark": {"type": "line", "color": "#0000ff", "strokeWidth": 4.5, "strokeJoin": "round"}}
                  ]
                },
                {"data": {"values": [{}]}, "mark": {"type": "text", "text": "осень", "font": "Liberation Serif", "fontWeight": "bold", "fontSize": 21, "align": "left", "baseline": "middle", "color": "black"},
                  "encoding": {"x": {"datum": 1937.4, "type": "quantitative", "axis": null}, "y": {"datum": 2.68, "type": "quantitative", "axis": null}}},
                {"data": {"values": [{}]}, "mark": {"type": "text", "text": "b = 0.46ᴼC / 10 лет, D = 27%", "font": "Liberation Sans", "fontWeight": "bold", "fontStyle": "italic", "fontSize": 19, "align": "left", "baseline": "middle", "color": "black"},
                  "encoding": {"x": {"datum": 1956.3, "type": "quantitative", "axis": null}, "y": {"datum": 2.68, "type": "quantitative", "axis": null}}}
              ]
            }
          ]
        }
      ]
    }
  ],
  "spacing": 69,
  "bounds": "flush"
}
